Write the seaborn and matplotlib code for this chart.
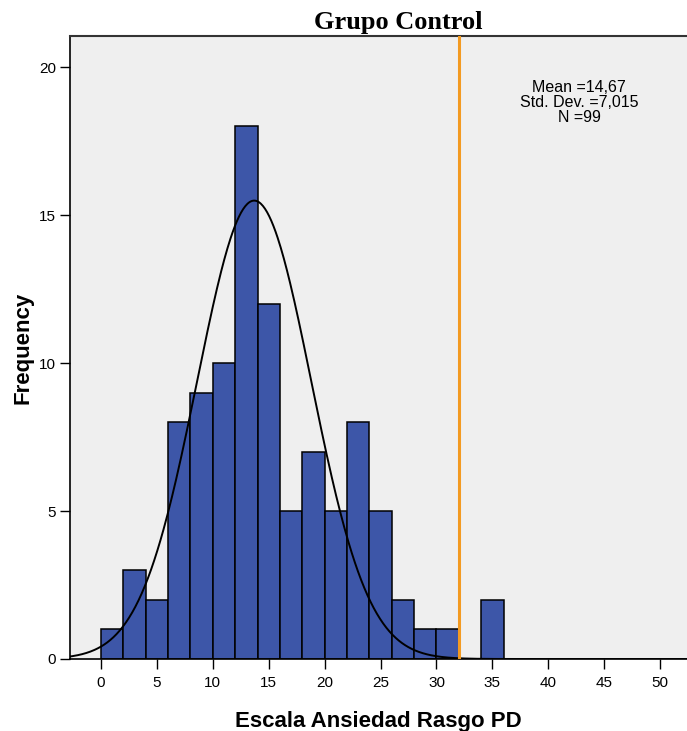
import numpy as np
import pandas as pd
import matplotlib
matplotlib.use("Agg")
import matplotlib.pyplot as plt
import seaborn as sns

# Data
bin_edges = [0, 2, 4, 6, 8, 10, 12, 14, 16, 18, 20, 22, 24, 26, 28, 30, 32, 34, 36]
counts = [1, 3, 2, 8, 9, 10, 18, 12, 5, 7, 5, 8, 5, 2, 1, 1, 0, 2]
curve_mean = 13.7
curve_sd = 5.1
n_total = 99
ref_line_x = 32
x_ticks = [0, 5, 10, 15, 20, 25, 30, 35, 40, 45, 50]
y_ticks = [0, 5, 10, 15, 20]
stats_text = "Mean =14,67\nStd. Dev. =7,015\nN =99"

sns.set_theme(style="white")
plt.rcParams["font.family"] = ["Liberation Sans", "DejaVu Sans"]
plt.rcParams["text.color"] = "black"
plt.rcParams["axes.labelcolor"] = "black"
plt.rcParams["xtick.color"] = "black"
plt.rcParams["ytick.color"] = "black"

fig = plt.figure(figsize=(6.87, 7.31), dpi=100)
ax = fig.add_axes([70 / 687, 1 - 659 / 731, 1 - 70 / 687, (659 - 36) / 731])
ax.set_facecolor("#EFEFEF")

edges = [float(e) for e in bin_edges]
centers = [(a + b) / 2 for a, b in zip(edges[:-1], edges[1:])]
df = pd.DataFrame({"x": centers, "w": counts})
sns.histplot(data=df, x="x", weights="w", bins=edges, ax=ax,
             color="#3D56A8", alpha=1.0, edgecolor="black", linewidth=1.1)

# Fitted normal curve (parameters)
xs = np.linspace(-3, 53, 600)
binw = edges[1] - edges[0]
ys = n_total * binw / (curve_sd * np.sqrt(2 * np.pi)) * np.exp(-0.5 * ((xs - curve_mean) / curve_sd) ** 2)
sns.lineplot(x=xs, y=ys, ax=ax, color="black", linewidth=1.4)

ax.axvline(ref_line_x, color="#F39A21", linewidth=2.2, zorder=5)

ax.set_xlim(-2.77, 52.4)
ax.set_ylim(0, 21.05)
ax.set_xticks(x_ticks)
ax.set_yticks(y_ticks)
ax.tick_params(axis="both", which="major", length=7, width=1, color="black",
               labelsize=11, bottom=True, left=True, direction="out", pad=3,
               labelcolor="black")
ax.tick_params(axis="x", pad=5)

for side in ["left", "bottom"]:
    ax.spines[side].set_color("black")
    ax.spines[side].set_linewidth(1.2)
ax.spines["top"].set_color("#333333")
ax.spines["top"].set_linewidth(1.5)
ax.spines["right"].set_visible(False)

ax.set_xlabel("Escala Ansiedad Rasgo PD", fontsize=16, fontweight="bold",
              labelpad=15, color="black")
ax.set_ylabel("Frequency", fontsize=16, fontweight="bold", labelpad=4, color="black")

ax.text(0.825, 0.93, stats_text, transform=ax.transAxes, ha="center", va="top",
        fontsize=11.5, linespacing=1.0, color="black")

fig.text(398 / 687, 1 - 22 / 731, "Grupo Control", ha="center", va="center",
         fontsize=19, fontweight="bold", color="black",
         family=["Liberation Serif", "DejaVu Serif"])

fig.savefig("out.png", dpi=100)
